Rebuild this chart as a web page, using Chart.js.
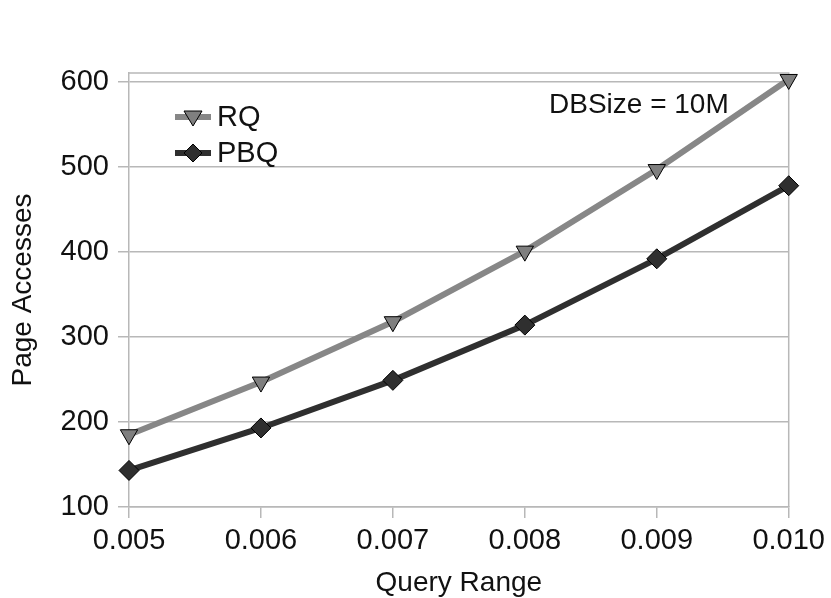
<!DOCTYPE html>
<html>
<head>
<meta charset="utf-8">
<script src="https://cdn.jsdelivr.net/npm/chart.js@4/dist/chart.umd.min.js"></script>
<style>
  html, body { margin: 0; padding: 0; background: #fff; }
  #wrap { width: 831px; height: 598px; }
</style>
</head>
<body>
<div id="wrap"><canvas id="chart" width="831" height="598"></canvas></div>
<script>
const queryRange = ['0.005', '0.006', '0.007', '0.008', '0.009', '0.010'];
const rqValues = [185, 247, 318, 401, 497, 603];
const pbqValues = [143, 193, 249, 314, 392, 478];
const yTicks = [100, 200, 300, 400, 500, 600];
const note = 'DBSize = 10M';

const font = 'Liberation Sans, Arial, sans-serif';
const gridColor = '#b8b8b8';
const textColor = '#111';

// box round the plot, the legend inside it and the DBSize note
const framePlugin = {
    id: 'frame',
    beforeDatasetsDraw(chart) {
        const { ctx, chartArea: a } = chart;
        ctx.save();
        ctx.strokeStyle = gridColor;
        ctx.lineWidth = 1.5;
        ctx.beginPath();
        ctx.moveTo(a.left, a.top);
        ctx.lineTo(a.right, a.top);
        ctx.lineTo(a.right, a.bottom);
        ctx.stroke();
        ctx.restore();
    },
    afterDatasetsDraw(chart) {
        const { ctx } = chart;
        ctx.save();
        chart.data.datasets.forEach((ds, i) => {
            const y = 117 + i * 36;
            ctx.strokeStyle = ds.borderColor;
            ctx.lineWidth = 6;
            ctx.beginPath();
            ctx.moveTo(175, y);
            ctx.lineTo(211, y);
            ctx.stroke();
            ctx.fillStyle = ds.pointBackgroundColor;
            ctx.strokeStyle = '#000';
            ctx.lineWidth = 1;
            ctx.beginPath();
            if (ds.pointStyle === 'triangle') {
                ctx.moveTo(184, y - 6);
                ctx.lineTo(202, y - 6);
                ctx.lineTo(193, y + 9);
            } else {
                ctx.moveTo(193, y - 9);
                ctx.lineTo(202, y);
                ctx.lineTo(193, y + 9);
                ctx.lineTo(184, y);
            }
            ctx.closePath();
            ctx.fill();
            ctx.stroke();
            ctx.fillStyle = textColor;
            ctx.font = '29px ' + font;
            ctx.textBaseline = 'middle';
            ctx.textAlign = 'left';
            ctx.fillText(ds.label, 217, y + 1);
        });
        ctx.font = '28px ' + font;
        ctx.fillStyle = textColor;
        ctx.textBaseline = 'middle';
        ctx.fillText(note, 549, 105);
        ctx.restore();
    }
};

new Chart(document.getElementById('chart'), {
    type: 'line',
    data: {
        labels: queryRange,
        datasets: [
            {
                label: 'RQ',
                data: rqValues,
                borderColor: '#878787',
                backgroundColor: '#878787',
                pointBackgroundColor: '#7f7f7f',
                pointBorderColor: '#000',
                pointBorderWidth: 1,
                pointStyle: 'triangle',
                rotation: 180,
                pointRadius: 10,
                borderWidth: 6,
                clip: false,
            },
            {
                label: 'PBQ',
                data: pbqValues,
                borderColor: '#2f2f2f',
                backgroundColor: '#2f2f2f',
                pointBackgroundColor: '#2f2f2f',
                pointBorderColor: '#000',
                pointBorderWidth: 1,
                pointStyle: 'rectRot',
                pointRadius: 10,
                borderWidth: 6,
                clip: false,
            },
        ],
    },
    options: {
        responsive: false,
        animation: false,
        layout: { padding: { top: 73, right: 42, left: 0, bottom: 0 } },
        plugins: { legend: { display: false }, tooltip: { enabled: false } },
        scales: {
            x: {
                type: 'category',
                offset: false,
                afterFit(scale) { scale.height = 91; },
                grid: { drawOnChartArea: false, drawTicks: true, tickLength: 11, color: gridColor, lineWidth: 1.5 },
                border: { color: gridColor, width: 1.5 },
                ticks: { color: textColor, padding: 6, maxRotation: 0, font: { family: font, size: 29 } },
                title: { display: true, text: 'Query Range', color: textColor, padding: { bottom: -2 }, font: { family: font, size: 28 } },
            },
            y: {
                min: 100,
                max: 610.6,
                afterFit(scale) { scale.width = 129; },
                afterBuildTicks(scale) { scale.ticks = yTicks.map(v => ({ value: v })); },
                grid: { color: gridColor, lineWidth: 1.5, tickLength: 11 },
                border: { color: gridColor, width: 1.5 },
                ticks: { color: textColor, padding: 9, font: { family: font, size: 29 } },
                title: { display: true, text: 'Page Accesses', color: textColor, padding: { top: 6 }, font: { family: font, size: 28 } },
            },
        },
    },
    plugins: [framePlugin],
});
</script>
</body>
</html>
